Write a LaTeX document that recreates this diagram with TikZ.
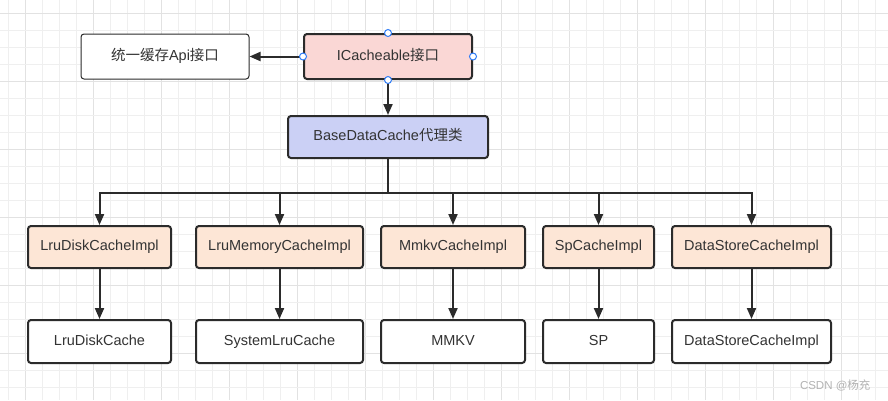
\documentclass[tikz,border=0pt]{standalone}
\usepackage{fontspec}
\setmainfont{Liberation Sans}
\newfontfamily\cjk{Noto Sans CJK SC}
\usetikzlibrary{arrows.meta}
\definecolor{gridminor}{HTML}{EFEFEF}
\definecolor{gridmajor}{HTML}{E2E2E2}
\definecolor{edgec}{HTML}{2B2B2B}
\definecolor{txt}{HTML}{333333}
\definecolor{pinkfill}{HTML}{FAD7D5}
\definecolor{bluefill}{HTML}{CBD0F5}
\definecolor{peachfill}{HTML}{FDE6D6}
\definecolor{handle}{HTML}{2F7CF6}
\tikzset{
  box/.style={draw=edgec, line width=2pt, rounded corners=3pt, inner sep=0pt,
    text=txt, font=\fontsize{14.5}{16}\selectfont, anchor=center,
    text height=10.5pt, text depth=3pt},
  thinbox/.style={box, line width=1pt},
  arr/.style={draw=edgec, line width=2pt, -{Triangle[length=11pt,width=9pt]}},
  hdl/.style={circle, draw=handle, fill=white, line width=1pt, minimum size=7pt, inner sep=0pt},
}
\begin{document}
\begin{tikzpicture}[x=1pt,y=-1pt]
\useasboundingbox (0,0) rectangle (888,400);
\fill[white] (0,0) rectangle (888,400);
% grid
\foreach \i in {0,...,52}{
  \pgfmathtruncatemacro{\m}{mod(\i,4)}
  \ifnum\m=1 \draw[gridmajor, line width=0.9pt] ({8.3+17*\i},0) -- ({8.3+17*\i},400);
  \else \draw[gridminor, line width=0.9pt] ({8.3+17*\i},0) -- ({8.3+17*\i},400); \fi
}
\foreach \j in {0,...,23}{
  \pgfmathtruncatemacro{\m}{mod(\j,4)}
  \ifnum\m=0 \draw[gridmajor, line width=0.9pt] (0,{13.3+17*\j}) -- (888,{13.3+17*\j});
  \else \draw[gridminor, line width=0.9pt] (0,{13.3+17*\j}) -- (888,{13.3+17*\j}); \fi
}
% top nodes
\node[thinbox, fill=white, minimum width=168pt, minimum height=45pt] (api) at (165,56.5) {{\cjk 统一缓存}Api{\cjk 接口}};
\node[box, fill=pinkfill, minimum width=168pt, minimum height=45pt] (icache) at (388,56.5) {ICacheable{\cjk 接口}};
\node[box, fill=bluefill, minimum width=200pt, minimum height=42pt] (base) at (388,137) {BaseDataCache{\cjk 代理类}};
% row 1
\node[box, fill=peachfill, minimum width=143pt, minimum height=42pt] (a1) at (99.5,247) {LruDiskCacheImpl};
\node[box, fill=peachfill, minimum width=167pt, minimum height=42pt] (b1) at (279.5,247) {LruMemoryCacheImpl};
\node[box, fill=peachfill, minimum width=144pt, minimum height=42pt] (c1) at (453,247) {MmkvCacheImpl};
\node[box, fill=peachfill, minimum width=111pt, minimum height=42pt] (d1) at (598.5,247) {SpCacheImpl};
\node[box, fill=peachfill, minimum width=159pt, minimum height=42pt] (e1) at (751.5,247) {DataStoreCacheImpl};
% row 2
\node[box, fill=white, minimum width=143pt, minimum height=43pt] (a2) at (99.5,341.5) {LruDiskCache};
\node[box, fill=white, minimum width=167pt, minimum height=43pt] (b2) at (279.5,341.5) {SystemLruCache};
\node[box, fill=white, minimum width=144pt, minimum height=43pt] (c2) at (453,341.5) {MMKV};
\node[box, fill=white, minimum width=111pt, minimum height=43pt] (d2) at (598.5,341.5) {SP};
\node[box, fill=white, minimum width=159pt, minimum height=43pt] (e2) at (751.5,341.5) {DataStoreCacheImpl};
% connectors
\draw[arr] (icache.west) -- (api.east);
\draw[arr] (icache.south) -- (base.north);
\coordinate (bus) at (388,192.5);
\draw[draw=edgec, line width=2pt] (base.south) -- (bus);
\foreach \n in {a1,b1,c1,d1,e1}{
  \draw[arr] (bus) -| (\n.north);
}
\draw[arr] (a1) -- (a2);
\draw[arr] (b1) -- (b2);
\draw[arr] (c1) -- (c2);
\draw[arr] (d1) -- (d2);
\draw[arr] (e1) -- (e2);
% selection handles
\node[hdl] (h1) at (icache.north) {};
\node[hdl] (h2) at (icache.south) {};
\node[hdl] (h3) at (icache.west) {};
\node[hdl] (h4) at (icache.east) {};
% watermark
\node[text=gray!60, font=\fontsize{11.5}{13}\selectfont, anchor=east] (wm) at (874,385) {CSDN @{\cjk 杨充}};
\end{tikzpicture}
\end{document}
